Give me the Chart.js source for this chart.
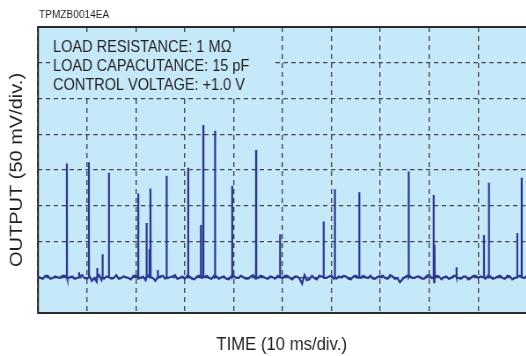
<!DOCTYPE html>
<html>
<head>
<meta charset="utf-8">
<script src="https://cdn.jsdelivr.net/npm/chart.js@4.4.1/dist/chart.umd.min.js"></script>
<style>
  html, body { margin: 0; padding: 0; overflow: hidden; background: #ffffff; width: 526px; height: 356px; }
  #wrap { position: absolute; left: 0; top: 0; width: 605px; height: 356px; transform: scaleX(0.88); transform-origin: 0 0; }
</style>
</head>
<body>
<div id="wrap"><canvas id="c" width="605" height="356"></canvas></div>
<script>
// ---- data (time in ms, output in mV relative to the baseline) ----
const xRangeMs = [0, 100];          // 10 divisions of 10 ms
const yRangeMv = [-50, 350];        // 8 divisions of 50 mV
const xDivMs = 10;
const yDivMv = 50;

const spikeTimes   = [5.9, 8.4, 10.4, 12.1, 13.2, 14.5, 20.5, 22.2, 22.8, 23.0, 24.5, 26.3, 30.7, 33.3, 33.8, 36.2, 39.7, 44.6, 49.5, 58.4, 60.7, 65.7, 75.8, 80.9, 81.1, 85.6, 91.2, 92.2, 98.0, 98.9];
const spikeHeights = [159,  7,   161,  13,   32,   146,  117,  76,   39,   124,  10,   142,  153,  73,   213,  205,  128,  178,  60,   78,   123,  119,  148,  115,  45,   14,   59,   132,  62,   139];

// baseline noise (mV): values at whole ms ...
const baselineNoise = [1,-2,2,-1,0,2,-2,1,-1,3,
  -2,-5,-6,-4,1,-2,3,-1,0,-3,
  2,-1,-4,2,-5,1,-2,0,3,-1,
  -2,1,-3,2,0,-1,2,-2,1,-3,
  2,-1,0,-2,3,-1,1,-2,0,2,
  -1,2,-3,1,-9,-4,2,-3,1,-1,
  2,-2,0,1,-3,2,-1,0,2,-2,
  1,-1,3,-2,-7,0,2,-1,1,-2,
  3,-7,1,0,-2,2,-1,1,-3,2,
  -1,0,2,-2,1,-1,2,-3,1,0,
  2];
// ... and at the half ms in between
const baselineNoiseHalf = [-1,2,-2,1,-1,2,0,-2,1,-1,
  2,-1,3,-2,2,-1,-2,1,-1,2,
  -2,1,2,-1,-2,2,-1,1,-2,1,
  2,-2,1,-1,2,-2,1,0,-2,1,
  -1,2,-2,1,-2,2,-1,1,-2,1,
  2,-1,1,-2,3,-3,-1,2,-1,1,
  -2,1,2,-2,1,-1,2,-1,-2,1,
  2,-2,1,-1,-3,2,-1,1,-2,2,
  -1,2,-3,1,-1,2,-2,1,-1,2,
  1,-2,1,-1,2,-2,1,-1,2,-1];

const infoLines = ["LOAD RESISTANCE: 1 M\u03A9", "LOAD CAPACUTANCE: 15 pF", "CONTROL VOLTAGE: +1.0 V"];
const codeLabel = "TPMZB0014EA";
const xTitle = "TIME (10 ms/div.)";
const yTitle = "OUTPUT (50 mV/div.)";

// ---- build the trace ----
const pts = [];
baselineNoise.forEach((v, i) => pts.push({x: i, y: v}));
baselineNoiseHalf.forEach((v, i) => pts.push({x: i + 0.5, y: v}));
spikeTimes.forEach((t, i) => {
  pts.push({x: t - 0.03, y: 0});
  pts.push({x: t, y: spikeHeights[i]});
  pts.push({x: t + 0.03, y: 0});
});
pts.sort((a, b) => a.x - b.x);

const S = 0.88; // horizontal squeeze applied by CSS
const BG = '#c6e9f9';
const INK = '#231f20';

const decor = {
  id: 'decor',
  beforeDraw(chart) {
    const a = chart.chartArea, ctx = chart.ctx;
    ctx.save();
    ctx.fillStyle = BG;
    ctx.fillRect(a.left, a.top, a.right - a.left, a.bottom - a.top);
    ctx.restore();
  },
  beforeDatasetsDraw(chart) {
    const ctx = chart.ctx;
    ctx.save();
    // box behind the info text hiding the grid
    ctx.fillStyle = BG;
    ctx.fillRect(51 / S, 33, (273 - 51) / S, 63);
    ctx.fillStyle = INK;
    ctx.font = '16.5px "Liberation Sans", Arial, sans-serif';
    ctx.textBaseline = 'middle';
    ctx.textAlign = 'left';
    infoLines.forEach((s, i) => ctx.fillText(s, 53 / S, 47.5 + i * 19));
    ctx.restore();
  },
  afterDraw(chart) {
    const a = chart.chartArea, ctx = chart.ctx;
    ctx.save();
    ctx.strokeStyle = '#2a2a2a';
    ctx.lineWidth = 2;
    ctx.beginPath();
    ctx.moveTo(a.right + 5, a.top);
    ctx.lineTo(a.left, a.top);
    ctx.lineTo(a.left, a.bottom);
    ctx.lineTo(a.right + 5, a.bottom);
    ctx.stroke();
    ctx.fillStyle = INK;
    ctx.textBaseline = 'middle';
    ctx.font = '11.5px "Liberation Sans", Arial, sans-serif';
    ctx.textAlign = 'left';
    ctx.fillText(codeLabel, 39 / S, 15);
    ctx.font = '19px "Liberation Sans", Arial, sans-serif';
    ctx.textAlign = 'center';
    ctx.fillText(xTitle, (a.left + a.right) / 2 - 1, 345);
    ctx.save();
    ctx.translate(17 / S, (a.top + a.bottom) / 2);
    ctx.rotate(-Math.PI / 2);
    ctx.font = '20px "Liberation Sans", Arial, sans-serif';
    ctx.fillText(yTitle, 0, 0);
    ctx.restore();
    ctx.restore();
  }
};

new Chart(document.getElementById('c'), {
  type: 'line',
  data: {
    datasets: [{
      data: pts,
      borderColor: '#2b3593',
      borderWidth: 2.2,
      pointRadius: 0,
      tension: 0,
      fill: false
    }]
  },
  options: {
    responsive: false,
    animation: false,
    events: [],
    layout: { padding: { left: 38 / S, right: 605 - 527 / S, top: 27, bottom: 356 - 313 } },
    plugins: { legend: { display: false }, tooltip: { enabled: false } },
    scales: {
      x: {
        type: 'linear', min: xRangeMs[0], max: xRangeMs[1],
        ticks: { display: false, stepSize: xDivMs },
        grid: { color: 'rgba(45,45,45,0.85)', lineWidth: 1.4, drawTicks: false },
        border: { display: false, dash: [5, 4] }
      },
      y: {
        type: 'linear', min: yRangeMv[0], max: yRangeMv[1],
        ticks: { display: false, stepSize: yDivMv },
        grid: { color: 'rgba(45,45,45,0.85)', lineWidth: 1.3, drawTicks: false },
        border: { display: false, dash: [5, 4] }
      }
    }
  },
  plugins: [decor]
});
</script>
</body>
</html>
